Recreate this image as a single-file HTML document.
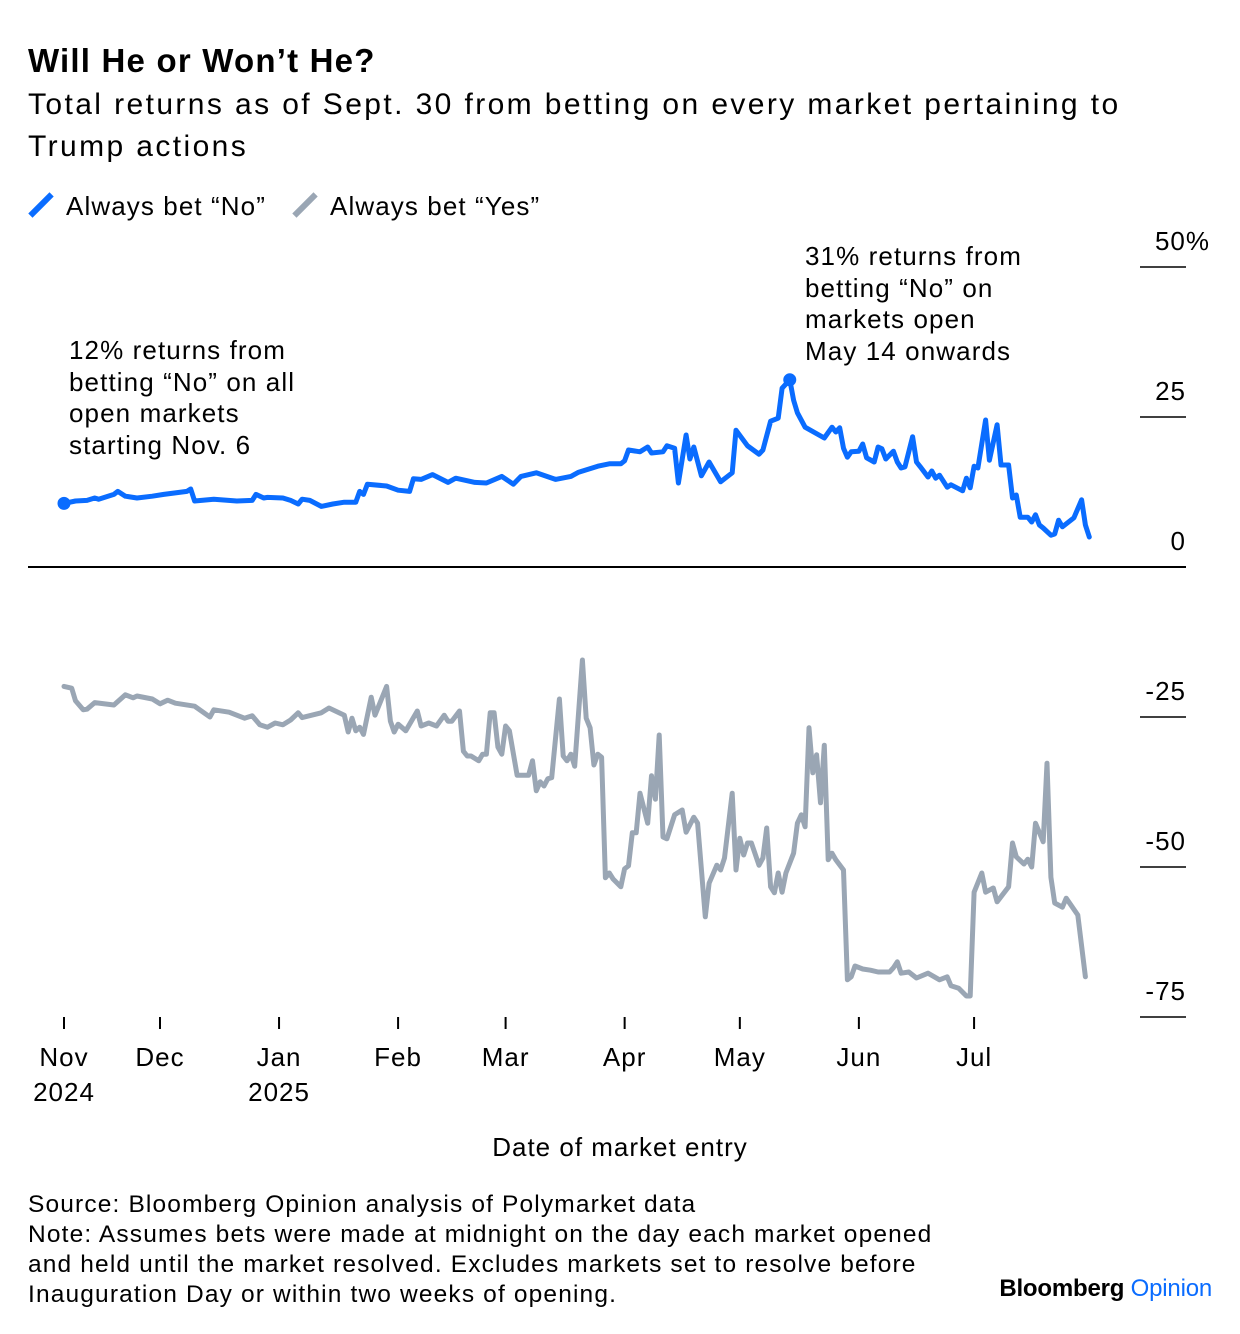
<!DOCTYPE html>
<html><head><meta charset="utf-8">
<style>
body{margin:0;background:#fff;font-family:"Liberation Sans",sans-serif;color:#000;}
#wrap{position:relative;width:1240px;height:1334px;overflow:hidden;}
.t{position:absolute;white-space:nowrap;}
</style></head>
<body>
<div id="wrap">
<div class="t" style="left:28px;top:42px;font-size:33px;font-weight:bold;letter-spacing:1.2px;">Will He or Won’t He?</div>
<div class="t" style="left:28px;top:84px;font-size:30px;line-height:42px;white-space:normal;width:1160px;letter-spacing:2.4px;">Total returns as of Sept. 30 from betting on every market pertaining to Trump actions</div>
<div>
<div class="t" style="left:28px;top:190px;font-size:26px;letter-spacing:1.1px;"><span style="display:inline-block;width:6px;height:30px;background:#0a6cff;transform:rotate(45deg);margin:0 22px -5px 10px;"></span>Always bet “No”</div>
<div class="t" style="left:292px;top:190px;font-size:26px;letter-spacing:1.1px;"><span style="display:inline-block;width:6px;height:30px;background:#9aa6b4;transform:rotate(45deg);margin:0 22px -5px 10px;"></span>Always bet “Yes”</div>
</div>
<div class="t" style="left:69px;top:335px;font-size:26px;line-height:31.5px;letter-spacing:1.1px;">12% returns from<br>betting “No” on all<br>open markets<br>starting Nov. 6</div>
<div class="t" style="left:805px;top:241px;font-size:26px;line-height:31.5px;letter-spacing:1.1px;">31% returns from<br>betting “No” on<br>markets open<br>May 14 onwards</div>
<svg id="chart" width="1240" height="1334" style="position:absolute;left:0;top:0;"></svg>
<div class="t" style="left:0;width:1240px;text-align:center;top:1132px;font-size:26px;letter-spacing:1px;">Date of market entry</div>
<div class="t" style="left:28px;top:1190px;font-size:24.5px;line-height:30px;letter-spacing:1.15px;">Source: Bloomberg Opinion analysis of Polymarket data<br>Note: Assumes bets were made at midnight on the day each market opened<br>and held until the market resolved. Excludes markets set to resolve before<br>Inauguration Day or within two weeks of opening.</div>
<div class="t" style="right:28px;top:1275px;font-size:24px;font-weight:bold;letter-spacing:-0.2px;">Bloomberg <span style="color:#0a6cff;font-weight:normal;">Opinion</span></div>
</div>
<script>
// days since Nov 1 2024
const noDays=[5,8,11,13,14,18,19,21,24,28,31,37,38,39,44,50,54,55,57,58,62,64,66,67,69,72,75,78,81,82,83,84,89,92,95,96,98,101,105,107,112,115,119,122,124,128,133,137,139,144,147,150,151,152,155,157,158,161,162,164,165,167,168,169,171,173,176,179,180,183,186,187,189,191,192,194,195,196,198,203,205,206,207,208,209,210,212,213,214,216,217,218,219,221,222,223,224,226,227,228,230,231,232,233,235,236,239,240,241,242,243,245,246,248,249,251,252,253,254,256,257,258,259,260,262,263,264,265,268,270,271,272];
const noValues=[10.6,11.0,11.1,11.5,11.3,12.1,12.6,11.8,11.5,11.8,12.1,12.6,13.0,11.0,11.3,11.0,11.1,12.1,11.5,11.6,11.5,11.1,10.5,11.3,11.1,10.1,10.5,10.8,10.8,12.6,12.1,13.8,13.5,12.8,12.6,14.7,14.6,15.4,14.1,14.8,14.1,14.0,15.1,13.8,15.1,15.7,14.6,15.1,15.8,16.8,17.2,17.2,17.7,19.5,19.2,20.0,19.0,19.2,20.2,19.8,14.0,22.0,18.0,20.0,15.2,17.5,14.2,15.7,22.8,20.2,18.8,19.5,24.3,24.8,29.8,31.2,27.8,25.7,23.3,21.5,23.3,22.5,23.2,19.8,18.3,19.2,19.3,20.5,18.2,17.5,20.0,19.7,18.0,19.3,17.5,16.5,16.7,21.7,17.5,16.7,15.0,16.0,14.8,15.3,13.3,13.7,12.7,14.8,13.2,16.8,16.5,24.5,17.8,23.7,17.0,17.0,11.5,12.0,8.3,8.3,7.5,8.7,7.0,6.5,5.3,5.5,7.8,6.7,8.2,11.2,7.0,5.0];
const yesDays=[5,7,8,10,11,13,18,21,23,24,28,30,32,34,39,43,44,48,52,54,56,58,60,62,64,66,67,72,74,78,79,80,81,82,83,85,86,89,90,91,92,94,97,98,100,102,104,105,106,108,109,110,111,113,114,115,116,117,118,119,120,121,123,126,127,128,129,130,131,132,134,135,136,137,138,140,141,142,143,144,145,146,147,148,150,151,152,153,154,155,157,158,159,160,161,162,164,166,167,169,170,172,173,175,176,177,179,180,181,182,183,184,186,187,188,189,190,191,192,193,195,196,197,198,199,200,201,202,203,204,205,206,208,209,210,211,213,215,217,220,221,222,223,225,227,230,233,235,236,238,240,241,242,244,245,247,248,251,252,253,255,256,257,258,260,261,262,263,265,266,269,271];
const yesValues=[-19.9,-20.2,-22.3,-23.8,-23.7,-22.6,-23.0,-21.3,-21.8,-21.5,-22.0,-22.8,-22.2,-22.7,-23.2,-25.0,-23.8,-24.2,-25.2,-24.8,-26.3,-26.7,-26.0,-26.3,-25.5,-24.3,-25.1,-24.3,-23.5,-24.7,-27.5,-25.2,-27.3,-26.7,-27.9,-21.7,-24.7,-19.9,-25.7,-27.5,-26.2,-27.3,-24.0,-26.5,-26.0,-26.5,-24.7,-25.7,-25.7,-24.0,-30.7,-31.5,-31.5,-32.3,-31.2,-31.2,-24.3,-24.3,-30.0,-31.2,-26.5,-27.3,-34.7,-34.7,-32.3,-37.3,-35.8,-36.5,-35.3,-35.1,-22.0,-31.5,-32.3,-31.2,-33.2,-15.5,-25.2,-26.8,-33.0,-31.2,-31.7,-51.8,-51.0,-52.0,-53.3,-50.3,-49.8,-44.3,-44.3,-37.7,-42.7,-34.8,-38.7,-28.0,-45.0,-45.3,-41.3,-40.5,-44.2,-41.7,-42.7,-58.3,-52.7,-49.7,-50.5,-48.5,-37.7,-50.5,-45.2,-48.0,-46.0,-46.0,-49.7,-48.5,-43.5,-53.3,-54.3,-51.0,-54.2,-51.0,-47.7,-42.7,-41.3,-43.3,-26.8,-34.3,-31.3,-39.3,-29.7,-48.8,-47.7,-48.8,-50.5,-68.8,-68.3,-66.5,-67.0,-67.2,-67.5,-67.5,-66.8,-65.8,-67.7,-67.5,-68.5,-67.7,-68.8,-68.3,-69.8,-70.2,-71.5,-71.5,-54.2,-51.0,-54.2,-53.5,-55.8,-53.3,-46.0,-48.3,-49.5,-48.7,-50.0,-42.7,-45.8,-32.7,-51.7,-56.0,-56.7,-55.2,-58.0,-68.3];
const yTicks=[50,25,0,-25,-50,-75];
const yTickLabels=["50%","25","0","-25","-50","-75"];
const xTickDays=[5,30,61,92,120,151,181,212,242];
const xTickLabels=["Nov","Dec","Jan","Feb","Mar","Apr","May","Jun","Jul"];
const xTickYears=["2024","","2025","","","","","",""];
const peakIndex=75;

const NS="http://www.w3.org/2000/svg";
const svg=document.getElementById('chart');
const xs=d=>44.8+d*3.84;
const ys=v=>567-v*6;
function el(tag,attrs,parent){const e=document.createElementNS(NS,tag);for(const k in attrs)e.setAttribute(k,attrs[k]);(parent||svg).appendChild(e);return e;}
yTicks.forEach((v,i)=>{
  const l=el('line',{x1:1140,x2:1186,y1:ys(v),y2:ys(v),stroke:'#000','stroke-width':1.5});
  
  
  const t=el('text',{x:i===0?1210:1186,y:ys(v)-17,'text-anchor':'end','font-size':26,'letter-spacing':1,'font-family':'Liberation Sans, sans-serif'});
  t.textContent=yTickLabels[i];
  
  
});
const zl=el('line',{x1:28,x2:1186,y1:ys(0),y2:ys(0),stroke:'#000','stroke-width':2});


xTickDays.forEach((d,i)=>{
  const tk=el('line',{x1:xs(d),x2:xs(d),y1:1017,y2:1029,stroke:'#000','stroke-width':2});
  
  
  const t=el('text',{x:xs(d),y:1066,'text-anchor':'middle','font-size':26,'letter-spacing':1,'font-family':'Liberation Sans, sans-serif'});
  t.textContent=xTickLabels[i];
  
  
  if(xTickYears[i]){
    const y=el('text',{x:xs(d),y:1101,'text-anchor':'middle','font-size':26,'letter-spacing':1,'font-family':'Liberation Sans, sans-serif'});
    y.textContent=xTickYears[i];
    
    
  }
});
function path(days,vals){return days.map((d,i)=>(i?'L':'M')+xs(d).toFixed(1)+','+ys(vals[i]).toFixed(1)).join('');}
const yl=el('path',{d:path(yesDays,yesValues),fill:'none',stroke:'#9aa6b4','stroke-width':5,'stroke-linejoin':'round','stroke-linecap':'round'});


const nl=el('path',{d:path(noDays,noValues),fill:'none',stroke:'#0a6cff','stroke-width':5,'stroke-linejoin':'round','stroke-linecap':'round'});


const c1=el('circle',{cx:xs(noDays[0]),cy:ys(noValues[0]),r:6.5,fill:'#0a6cff'});


const c2=el('circle',{cx:xs(noDays[peakIndex]),cy:ys(noValues[peakIndex]),r:6.5,fill:'#0a6cff'});


</script>
</body></html>
